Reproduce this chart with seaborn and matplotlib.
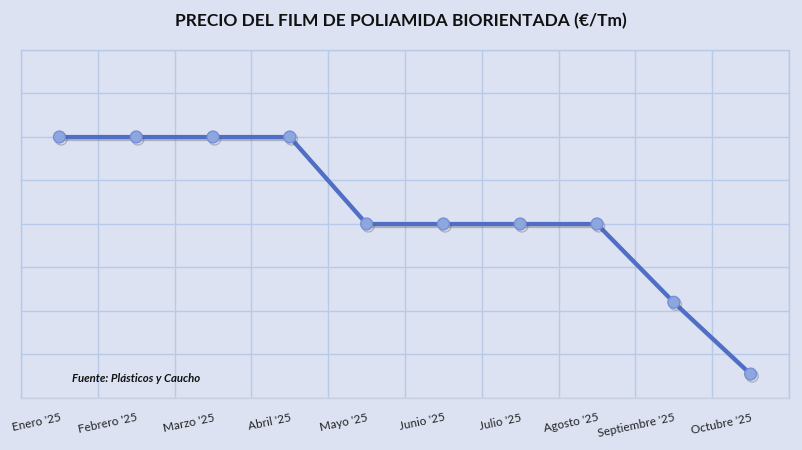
import matplotlib
matplotlib.use("Agg")
import matplotlib.pyplot as plt
import matplotlib.patheffects as pe
import seaborn as sns
import pandas as pd
import numpy as np

# data (y axis has no labels, values in grid units)
meses = ["Enero '25", "Febrero '25", "Marzo '25", "Abril '25", "Mayo '25",
         "Junio '25", "Julio '25", "Agosto '25", "Septiembre '25", "Octubre '25"]
precio = [6.0, 6.0, 6.0, 6.0, 4.0, 4.0, 4.0, 4.0, 2.2, 0.55]

bg = "#DCE2F2"
grid_col = "#B8CAEA"
line_col = "#4F6FC6"
marker_col = "#8EA6DE"

sns.set_theme(style="white")
plt.rcParams["font.family"] = ["Lato", "DejaVu Sans"]

df = pd.DataFrame({"mes": meses, "precio": precio})

fig = plt.figure(figsize=(8.02, 4.5), dpi=100, facecolor=bg)
ax = fig.add_axes([0.0262, 0.1156, 0.9576, 0.7733])
ax.set_facecolor(bg)

sns.lineplot(data=df, x="mes", y="precio", sort=False, ax=ax,
             color=line_col, linewidth=3.0, marker="o", markersize=8.5,
             markerfacecolor=marker_col, markeredgecolor="#7690D6",
             markeredgewidth=1.0,
             path_effects=[pe.SimpleLineShadow(offset=(1.2, -1.5), alpha=0.35,
                                               shadow_color="#555566"),
                           pe.Normal()])

ax.set_xlim(-0.5, len(meses) - 0.5)
ax.set_ylim(0, 8)
ax.set_yticks(np.arange(0, 9, 1))
ax.set_yticklabels([])
ax.tick_params(axis="y", length=0)

ax.set_xticks(range(len(meses)))
ax.set_xticklabels(meses, rotation=12, ha="right", rotation_mode="anchor",
                   fontsize=8.5, color="#222222")
ax.set_xticks(np.arange(-0.5, len(meses), 1), minor=True)
ax.tick_params(axis="x", which="major", length=0, pad=10)
ax.tick_params(axis="x", which="minor", length=3, color=grid_col, width=1)

ax.grid(True, which="major", axis="y", color=grid_col, linewidth=1)
ax.grid(True, which="minor", axis="x", color=grid_col, linewidth=1)
ax.grid(False, which="major", axis="x")
ax.set_axisbelow(True)

for s in ["top", "left", "right"]:
    ax.spines[s].set_color(grid_col)
    ax.spines[s].set_linewidth(1)
ax.spines["bottom"].set_color("#C9D0E0")
ax.spines["bottom"].set_linewidth(1)

ax.set_xlabel("")
ax.set_ylabel("")

fig.text(0.5, 0.952, "PRECIO DEL FILM DE POLIAMIDA BIORIENTADA (€/Tm)",
         ha="center", va="center", fontsize=12.5, fontweight="bold", color="#111111")
ax.text(0.067, 0.055, "Fuente: Plásticos y Caucho", transform=ax.transAxes,
        fontsize=8.2, fontweight="bold", fontstyle="italic", color="#111111",
        va="center", ha="left")

fig.savefig("out.png", dpi=100, facecolor=bg)
